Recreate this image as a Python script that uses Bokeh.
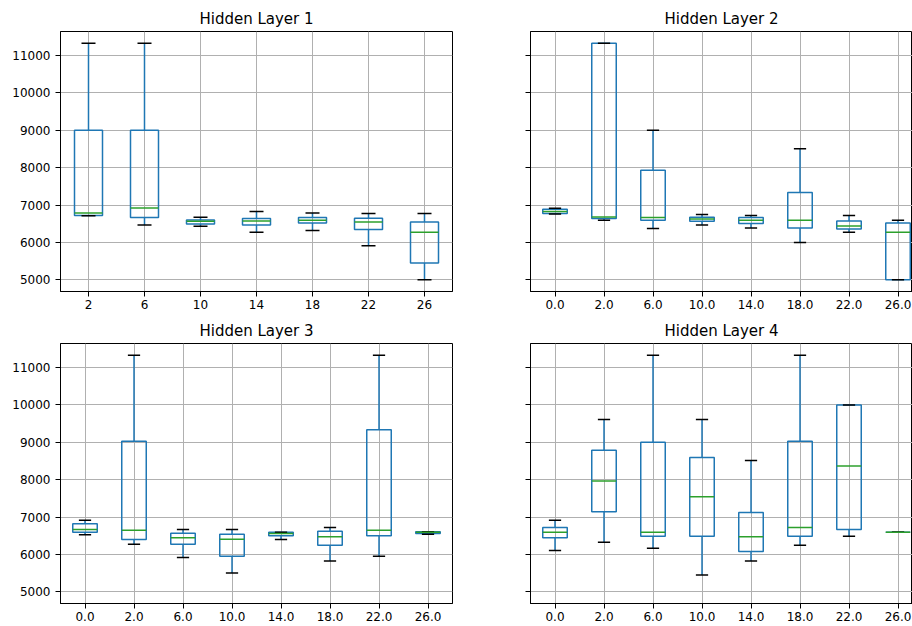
import numpy as np
from bokeh.plotting import figure
from bokeh.models import Range1d, FixedTicker, CustomJSTickFormatter, ColumnDataSource
from bokeh.layouts import column, row
from bokeh.embed import file_html
from bokeh.resources import INLINE

# ---------------- data ----------------
titles = ["Hidden Layer 1", "Hidden Layer 2", "Hidden Layer 3", "Hidden Layer 4"]

cats1 = ["2", "6", "10", "14", "18", "22", "26"]
lo1 = [6710, 6467, 6431, 6270, 6315, 5912, 5000]
q1_1 = [6720, 6664, 6494, 6467, 6521, 6342, 5447]
med1 = [6789, 6923, 6565, 6574, 6592, 6547, 6270]
q3_1 = [9000, 9000, 6601, 6637, 6664, 6646, 6547]
hi1 = [11330, 11330, 6673, 6825, 6789, 6771, 6771]

cats2 = ["0.0", "2.0", "6.0", "10.0", "14.0", "18.0", "22.0", "26.0"]
lo2 = [6762, 6592, 6369, 6467, 6387, 5993, 6270, 5000]
q1_2 = [6771, 6637, 6592, 6565, 6503, 6387, 6360, 5000]
med2 = [6825, 6682, 6664, 6628, 6592, 6592, 6440, 6270]
q3_2 = [6887, 11330, 7934, 6673, 6664, 7335, 6574, 6521]
hi2 = [6914, 11330, 9000, 6744, 6717, 8506, 6717, 6592]

cats3 = ["0.0", "2.0", "6.0", "10.0", "14.0", "18.0", "22.0", "26.0"]
lo3 = [6522, 6272, 5913, 5501, 6397, 5824, 5949, 6540]
q1_3 = [6594, 6397, 6272, 5949, 6495, 6245, 6495, 6558]
med3 = [6666, 6648, 6442, 6406, 6558, 6469, 6648, 6594]
q3_3 = [6818, 9030, 6567, 6540, 6594, 6621, 9334, 6603]
hi3 = [6916, 11330, 6666, 6666, 6594, 6719, 11330, 6603]

cats4 = ["0.0", "2.0", "6.0", "10.0", "14.0", "18.0", "22.0", "26.0"]
lo4 = [6101, 6325, 6164, 5448, 5824, 6245, 6487, 6594]
q1_4 = [6442, 7140, 6487, 6487, 6075, 6487, 6666, 6594]
med4 = [6594, 7964, 6594, 7543, 6469, 6719, 8367, 6594]
q3_4 = [6719, 8788, 9000, 8591, 7122, 9030, 10000, 6594]
hi4 = [6916, 9612, 11330, 9612, 8510, 11330, 10000, 6594]

y_ticks = [5000, 6000, 7000, 8000, 9000, 10000, 11000]

# ---------------- styling ----------------
BLUE = "#1f77b4"
GREEN = "#2ca02c"
FONT = "DejaVu Sans"
LW = 1.5

all_lo = lo1 + lo2 + lo3 + lo4
all_hi = hi1 + hi2 + hi3 + hi4
ymin, ymax = min(all_lo), max(all_hi)
pad = 0.05 * (ymax - ymin)


def make(title, cats, lo, q1, med, q3, hi, *, width, height, bl, br, bt, bb,
         x_end, show_ylabels, title_offset=0):
    n = len(cats)
    pos = np.arange(1, n + 1, dtype=float)
    p = figure(width=width, height=height,
               x_range=Range1d(0.5, x_end),
               y_range=Range1d(ymin - pad, ymax + pad),
               output_backend="svg", toolbar_location=None,
               min_border_left=bl, min_border_right=br,
               min_border_top=bt, min_border_bottom=bb,
               title=title)
    p.title.align = "center"
    p.title.text_font = FONT
    p.title.text_font_size = "15px"
    p.title.text_font_style = "normal"
    p.title.text_color = "black"
    p.title.standoff = 7
    p.title.offset = title_offset
    p.background_fill_color = "white"
    p.border_fill_color = "white"
    p.outline_line_color = "black"
    p.outline_line_width = 1
    p.outline_line_alpha = 1.0

    src = ColumnDataSource(dict(
        x=pos, l=pos - 0.25, r=pos + 0.25, cl=pos - 0.125, cr=pos + 0.125,
        lo=lo, q1=q1, med=med, q3=q3, hi=hi))

    p.quad(left="l", right="r", bottom="q1", top="q3", source=src,
           fill_color=None, line_color=BLUE, line_width=LW)
    p.segment(x0="x", y0="q3", x1="x", y1="hi", source=src,
              line_color=BLUE, line_width=LW)
    p.segment(x0="x", y0="q1", x1="x", y1="lo", source=src,
              line_color=BLUE, line_width=LW)
    p.segment(x0="cl", y0="hi", x1="cr", y1="hi", source=src,
              line_color="black", line_width=LW)
    p.segment(x0="cl", y0="lo", x1="cr", y1="lo", source=src,
              line_color="black", line_width=LW)
    p.segment(x0="l", y0="med", x1="r", y1="med", source=src,
              line_color=GREEN, line_width=LW)

    p.xaxis.ticker = FixedTicker(ticks=list(pos))
    p.xaxis.major_label_overrides = {float(x): c for x, c in zip(pos, cats)}
    p.yaxis.ticker = FixedTicker(ticks=y_ticks)
    if not show_ylabels:
        p.yaxis.formatter = CustomJSTickFormatter(code="return ''")

    for ax in (p.xaxis[0], p.yaxis[0]):
        ax.major_tick_out = 5
        ax.major_tick_in = 0
        ax.minor_tick_out = 0
        ax.minor_tick_in = 0
        ax.major_tick_line_color = "black"
        ax.major_tick_line_width = 1
        ax.axis_line_color = "black"
        ax.axis_line_width = 1
        ax.major_label_text_font = FONT
        ax.major_label_text_font_size = "12px"
        ax.major_label_text_color = "black"
    p.xaxis.major_label_standoff = 3
    p.yaxis.major_label_standoff = 5

    p.grid.grid_line_color = "#b0b0b0"
    p.grid.grid_line_width = 1
    return p


common_top = dict(height=316, bt=31, bb=25)
common_bot = dict(height=310, bt=27, bb=23)
left = dict(width=454, bl=60, br=2, show_ylabels=True)
right = dict(width=458, bl=76, br=0, show_ylabels=False, title_offset=5)

p1 = make(titles[0], cats1, lo1, q1_1, med1, q3_1, hi1, x_end=len(cats1) + 0.5,
          **common_top, **left)
p2 = make(titles[1], cats2, lo2, q1_2, med2, q3_2, hi2, x_end=0.5 + len(cats2) * 382 / 392,
          **common_top, **right)
p3 = make(titles[2], cats3, lo3, q1_3, med3, q3_3, hi3, x_end=len(cats3) + 0.5,
          **common_bot, **left)
p4 = make(titles[3], cats4, lo4, q1_4, med4, q3_4, hi4, x_end=0.5 + len(cats4) * 382 / 392,
          **common_bot, **right)

layout = column(row(p1, p2), row(p3, p4))
open("out.html", "w").write(file_html(layout, INLINE))
